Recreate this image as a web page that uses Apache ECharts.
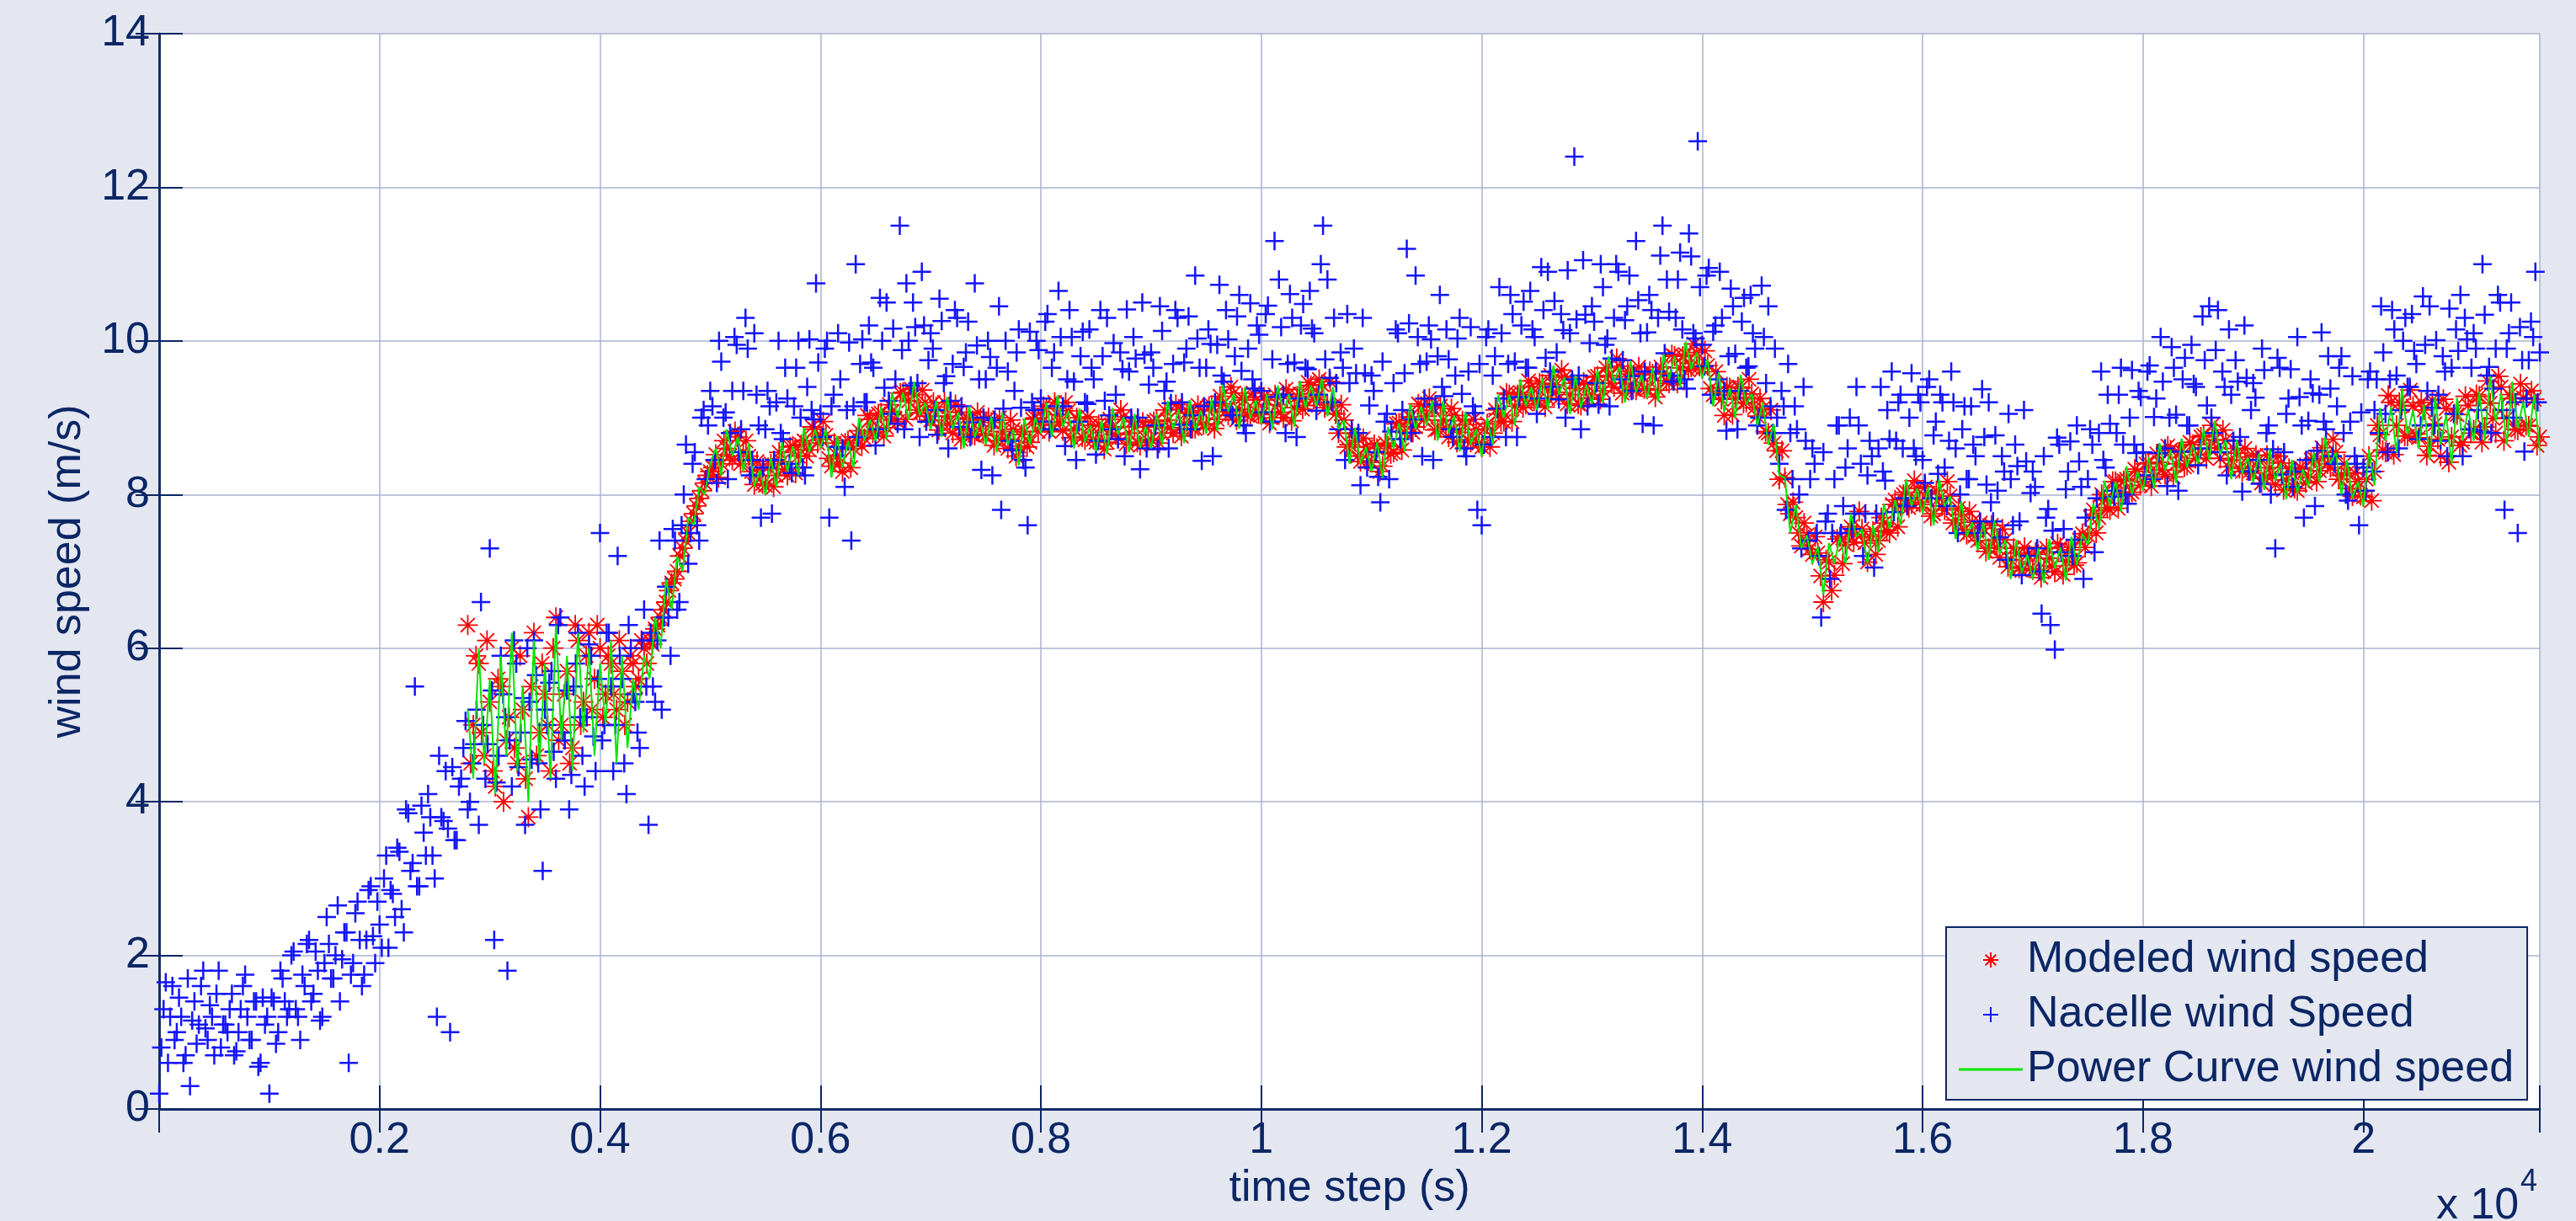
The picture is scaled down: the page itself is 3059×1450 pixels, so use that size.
<!DOCTYPE html>
<html>
<head>
<meta charset="utf-8">
<script src="https://cdn.jsdelivr.net/npm/echarts@6/dist/echarts.min.js"></script>
<style>
html,body{margin:0;padding:0;background:#e4e7f0;}
#c{width:3059px;height:1450px;}
</style>
</head>
<body>
<div id="c"></div>
<script>
// ---- data ----
// Nacelle wind speed, sample set A: one value every 40 s starting at t = 0 s
const NACELLE_A_T0 = 0, NACELLE_DT = 40;
const nacelleSpeedA = [
 0.2,1.3,0.6,1.6,1.0,1.2,0.7,0.3,1.4,1.1,1.8,0.9,1.2,1.5,0.8,1.1,1.3,0.7,1.0,1.6,1.2,0.9,1.4,0.6,1.1,
 0.2,1.4,1.0,1.7,1.2,2.0,1.3,0.9,1.6,2.2,1.5,1.8,1.2,2.5,1.7,2.0,1.4,2.3,0.6,1.9,2.7,1.6,2.2,2.9,1.9,
 2.4,3.0,2.1,2.8,3.4,2.6,3.9,3.1,5.5,2.9,3.6,4.1,3.3,1.2,3.8,4.4,1.0,3.5,4.2,4.7,3.9,4.5,5.2,6.6,4.3,
 7.3,2.2,4.6,5.4,1.8,4.2,5.8,4.9,3.7,5.3,6.1,4.5,3.1,5.0,5.7,4.3,6.4,4.8,3.9,5.5,6.2,4.6,5.1,5.9,4.4,
 7.5,5.0,6.2,4.4,7.2,5.6,4.1,6.0,5.3,4.7,6.5,3.7,5.5,6.1,5.2,6.8,5.9,7.4,6.6,8.0,7.1,8.4,7.6,9.0,8.2,
 9.35,8.45,10.0,9.0,8.2,9.35,9.95,8.85,10.3,8.25,10.1,8.9,8.35,9.35,7.75,9.2,8.8,9.65,8.4,9.15,10.0,8.35,9.4,9.1,10.75,
 9.05,9.9,7.7,9.3,10.1,8.6,9.1,7.4,11.0,9.7,9.2,10.2,9.65,8.85,10.0,10.5,9.05,9.5,11.5,8.85,10.0,10.5,9.45,10.9,8.95,
 10.1,9.1,10.55,9.45,8.6,9.7,10.3,9.15,9.85,8.75,10.75,9.5,9.0,10.0,8.25,9.65,7.8,10.0,8.7,9.35,10.15,8.45,7.6,9.2,10.0,
 9.25,10.25,8.85,9.85,10.65,9.15,9.5,10.05,8.45,9.8,9.2,10.15,9.5,8.7,9.8,10.3,8.85,9.3,9.85,8.5,9.6,10.05,9.0,10.5,8.6,
 9.85,8.9,10.45,9.35,8.6,9.7,10.3,9.2,9.9,8.85,10.85,9.65,9.15,10.15,8.5,9.95,9.55,10.4,9.1,9.8,10.6,8.9,9.9,9.5,10.2,
 9.35,10.35,8.95,11.3,10.8,9.3,9.7,10.3,8.75,10.2,9.65,10.65,10.1,9.3,11.5,10.8,9.2,9.45,9.85,8.45,9.45,9.9,8.8,10.3,8.35,
 9.55,8.55,7.9,8.95,8.2,9.45,10.1,9.1,11.2,8.8,10.85,9.7,9.25,10.2,8.45,9.8,9.4,10.15,8.85,9.55,10.3,8.6,9.6,9.15,7.8,
 7.6,10.05,8.75,9.8,10.7,9.25,9.7,10.35,8.75,10.2,9.65,10.65,10.05,9.25,10.4,10.9,9.4,9.85,10.35,9.0,10.1,12.4,9.55,11.05,9.15,
 10.45,9.45,11.0,9.95,9.15,10.3,10.9,9.75,10.45,9.35,11.3,10.1,9.6,10.6,8.9,10.3,11.5,10.8,9.55,10.3,11.15,9.5,11.4,10.1,12.6,
 9.95,10.85,9.3,10.2,10.9,9.35,9.8,10.45,8.85,10.25,9.65,10.6,9.9,9.0,10.05,10.45,8.8,9.0,9.35,7.8,8.8,9.15,8.0,9.4,7.4,
 8.6,7.5,6.4,7.65,6.9,8.2,8.9,7.85,8.6,7.55,9.4,8.4,7.75,8.7,7.05,8.6,8.3,9.1,9.6,8.7,9.3,7.95,9.0,8.6,9.3,
 8.45,9.4,7.95,8.95,9.3,8.35,8.7,9.2,7.5,8.85,8.2,9.15,8.5,7.65,8.75,9.2,7.65,8.05,8.5,7.15,8.2,8.65,7.65,9.1,7.2,
 8.3,7.3,6.45,7.7,6.3,5.98,8.65,7.55,8.3,7.2,8.9,8.1,7.7,8.85,7.25,8.8,8.45,9.3,8.05,8.8,9.65,8.0,9.0,8.65,9.35,
 8.55,9.6,8.2,9.25,10.05,8.6,9.0,9.65,8.05,9.5,8.9,9.95,9.4,8.6,9.75,10.45,8.8,10.4,9.6,8.25,9.3,9.75,8.75,10.2,8.3,
 9.45,8.45,9.9,8.8,8.0,7.3,9.65,8.55,9.25,8.1,10.05,8.9,8.45,9.5,7.85,9.3,8.95,9.8,8.5,9.15,9.8,8.0,8.95,8.5,7.6,
 8.35,9.5,8.3,9.5,10.45,9.05,9.5,10.15,8.6,10.0,9.4,10.35,9.7,8.9,9.95,10.45,8.9,9.3,9.8,8.5,9.65,10.15,10.6,10.3,8.85,
 10.1,9.1,11.0,9.55,8.8,9.9,10.5,7.8,10.1,9.0,7.5,9.75,9.25,10.25,10.9,9.85
];
// Nacelle wind speed, sample set B: one value every 40 s starting at t = 20 s
const NACELLE_B_T0 = 20;
const nacelleSpeedB = [
 0.8,1.65,1.2,0.9,1.45,0.6,1.7,1.15,0.85,1.6,1.05,1.35,0.7,1.8,1.1,1.0,1.5,0.75,1.3,1.75,0.9,1.4,0.55,1.45,1.2,
 1.45,0.85,1.8,1.4,1.3,2.05,1.2,1.75,2.15,1.4,2.05,1.15,1.9,2.15,1.7,2.65,1.95,2.3,1.75,2.55,2.2,1.75,2.85,2.25,2.7,
 2.1,3.3,2.85,2.5,3.35,2.3,3.85,3.2,2.9,3.95,3.3,3.8,3.0,4.6,3.75,3.65,4.45,3.5,4.3,5.05,4.0,4.75,3.7,5.0,4.75,
 5.45,4.25,5.9,5.1,4.8,6.1,4.45,5.35,6.0,4.55,5.65,3.9,5.2,5.55,4.65,6.3,4.9,5.45,4.35,5.8,5.1,4.2,6.05,4.85,5.6,
 4.8,6.2,5.5,5.0,5.9,4.5,6.3,5.4,4.9,6.1,5.5,6.2,5.3,7.4,6.4,6.4,7.55,6.5,7.6,8.65,7.5,8.55,7.4,9.1,8.9,
 9.15,8.15,9.73,9.07,8.8,10.05,8.55,9.35,9.9,8.45,9.3,7.7,8.85,9.15,8.45,10.0,8.72,9.25,8.28,9.65,9.0,8.25,10.02,8.98,9.72,
 8.75,10.0,9.15,8.62,9.5,8.1,9.98,9.15,8.75,10.02,9.2,9.72,8.64,10.56,9.39,9.22,10.16,8.92,9.88,10.75,9.42,10.18,8.75,10.2,9.75,
 9.9,8.78,10.26,9.54,9.22,10.4,8.88,9.66,10.25,8.94,9.94,8.32,9.5,9.79,8.97,10.45,9.12,9.6,8.58,9.85,9.13,8.35,10.12,9.1,9.88,
 8.95,10.35,9.65,9.15,10.05,8.63,10.4,9.47,8.95,10.12,9.18,9.65,8.52,10.4,9.22,9.03,9.97,8.72,9.63,10.41,9.0,9.77,8.33,9.82,9.43,
 9.65,8.59,10.13,9.47,9.19,10.4,8.91,9.72,10.32,9.03,10.03,8.44,9.65,9.96,9.2,10.73,9.47,10.02,9.03,10.32,9.61,8.8,10.49,9.38,10.08,
 9.07,10.46,9.76,9.27,10.18,8.8,10.61,9.72,9.25,10.48,9.63,10.16,9.09,11.0,9.76,9.52,10.3,8.85,9.65,10.35,8.85,9.58,8.12,9.58,9.16,
 9.35,8.23,9.73,9.05,8.82,10.15,8.72,9.58,10.23,8.98,10.05,8.5,9.73,10.02,9.17,10.6,9.28,9.76,8.75,10.03,9.31,8.5,10.18,9.06,9.7,
 8.65,10.15,9.55,9.12,10.1,8.75,10.6,9.73,9.27,10.51,9.65,10.15,9.05,10.96,9.78,9.6,10.52,9.24,10.14,10.92,9.5,10.28,8.85,10.34,9.97,
 10.25,9.17,10.7,10.03,9.77,11.0,9.5,10.27,10.85,9.54,10.53,8.92,10.11,10.4,9.6,11.11,9.84,10.38,9.47,10.8,10.15,9.38,11.1,10.03,10.7,
 9.67,10.95,10.12,9.5,10.3,8.83,10.68,9.83,9.35,10.56,9.67,10.1,8.9,10.72,9.45,9.15,9.9,8.4,9.15,9.7,8.2,8.85,7.3,8.7,8.2,
 8.4,7.2,8.55,7.75,7.5,8.9,7.5,8.35,9.0,7.75,8.9,7.2,8.25,8.5,7.75,9.4,8.18,8.72,7.77,9.2,8.6,7.85,9.58,8.5,9.2,
 8.15,9.5,8.77,8.27,9.2,7.85,9.6,8.6,8.0,9.15,8.2,8.65,7.5,9.37,8.13,7.9,8.77,7.44,8.3,9.05,7.6,8.37,6.95,8.43,8.02,
 8.1,7.0,8.5,7.81,7.53,8.74,7.25,8.07,8.69,7.41,8.43,6.9,8.2,8.65,7.95,9.6,8.35,8.92,7.97,9.3,8.65,7.88,9.62,8.54,9.27,
 8.25,9.68,9.01,8.54,9.47,8.11,9.92,9.04,8.56,9.78,8.9,9.44,8.38,10.32,9.16,9.0,9.88,8.55,9.4,10.15,8.7,9.47,8.04,9.52,9.1,
 9.26,8.14,9.62,8.9,8.59,9.78,8.26,9.05,9.63,8.3,9.27,7.7,8.96,9.32,8.57,10.11,8.85,9.38,8.4,9.65,8.8,7.92,9.54,8.4,9.07,
 8.05,9.6,9.1,8.8,9.85,8.55,10.4,9.55,9.1,10.3,9.4,9.87,8.72,10.58,9.35,9.13,10.01,8.7,9.6,10.42,9.05,9.87,8.5,10.02,9.65,
 9.9,8.82,10.34,9.66,9.38,10.6,9.1,9.9,10.5,9.2,10.18,8.56,9.75,10.05,9.2
];

// Modeled wind speed, set A: one value every 50 s from t = 2800 s
const MODEL_A_T0 = 2800, MODEL_DT = 50;
const modeledSpeedA = [
 6.3,5.0,5.8,4.6,5.3,4.2,5.5,4.8,6.0,4.5,5.2,3.8,6.2,4.9,5.4,4.4,6.4,5.0,5.7,4.7,6.1,5.3,6.2,5.6,6.0,5.4,5.8,5.2,5.7,5.3,5.8,5.6,6.0,
 6.1,6.25,6.4,6.6,6.85,7.0,7.3,7.5,7.75,7.95,8.15,8.3,
 8.52,8.4,8.6,8.45,8.75,8.55,8.5,8.13,8.32,8.12,8.4,8.25,8.43,8.25,8.63,8.5,8.7,8.58,8.85,8.72,
 8.77,8.37,8.51,8.3,8.7,8.6,8.83,8.73,8.98,8.82,9.06,8.87,9.08,8.95,9.33,9.22,9.3,9.06,9.2,8.97,
 9.14,8.9,9.02,8.8,9.07,8.85,8.98,8.77,8.97,8.77,8.94,8.7,8.82,8.6,8.85,8.63,8.82,8.68,9.0,8.92,
 9.12,8.9,9.04,8.83,9.09,8.85,8.95,8.71,8.9,8.68,8.89,8.68,8.88,8.73,9.01,8.8,8.88,8.64,8.88,8.72,
 8.97,8.8,8.97,8.8,9.11,8.92,9.06,8.86,9.09,8.92,9.16,8.98,9.18,9.03,9.32,9.11,9.23,9.02,9.23,9.04,
 9.23,9.0,9.17,9.0,9.31,9.13,9.31,9.16,9.42,9.27,9.43,9.17,9.15,8.8,8.97,8.65,8.7,8.43,8.62,8.42,
 8.6,8.37,8.63,8.55,8.93,8.81,9.01,8.88,9.15,9.02,9.14,8.85,8.97,8.75,9.03,8.81,8.91,8.68,8.85,8.62,
 8.92,8.8,9.05,8.95,9.3,9.15,9.33,9.18,9.4,9.22,9.44,9.25,9.43,9.25,9.53,9.3,9.38,9.16,9.43,9.3,
 9.54,9.35,9.55,9.4,9.67,9.45,9.57,9.36,9.56,9.37,9.57,9.36,9.58,9.45,9.8,9.65,9.82,9.66,9.85,9.64,
 9.68,9.3,9.34,9.03,9.39,9.25,9.39,9.2,9.31,9.02,9.12,8.8,8.67,8.2,8.22,7.75,7.7,7.33,7.47,7.22,
 7.24,6.6,7.12,6.95,7.45,7.35,7.58,7.48,7.55,7.12,7.52,7.4,7.63,7.5,7.93,7.85,8.03,7.88,8.08,7.87,
 8.02,7.75,7.95,7.8,7.98,7.67,7.74,7.48,7.64,7.4,7.56,7.3,7.41,7.18,7.41,7.15,7.24,7.01,7.22,7.02,
 7.22,7.0,7.17,6.99,7.31,7.13,7.28,7.11,7.49,7.47,7.8,7.7,7.93,7.8,8.17,8.03,8.2,8.03,8.3,8.17,
 8.41,8.23,8.42,8.26,8.58,8.4,8.56,8.38,8.65,8.52,8.77,8.6,8.71,8.47,8.71,8.45,8.54,8.3,8.49,8.28,
 8.45,8.21,8.35,8.13,8.41,8.19,8.28,8.05,8.33,8.22,8.47,8.31,8.5,8.35,8.55,8.25,8.28,7.98,8.17,7.97,
 8.5,8.3,8.78,8.55,9.2,8.9,9.16,8.76,9.15,8.74,9.1,8.63,8.92,8.5,9.12,8.75,9.04,8.68,9.16,8.84,
 9.28,8.88,9.19,8.8,9.4,9.0,9.25,8.84,9.26,8.89,9.24,8.75
];
// Modeled wind speed, set B: one value every 50 s from t = 2825 s
const MODEL_B_T0 = 2825;
const modeledSpeedB = [
 4.5,5.9,4.9,6.1,4.4,5.6,4.0,5.1,4.7,5.9,4.3,5.5,4.6,5.8,5.0,6.0,4.8,5.4,4.5,6.3,5.0,5.9,5.2,6.3,5.1,5.9,5.4,6.1,5.0,5.9,5.5,6.1,5.8,
 6.05,6.3,6.5,6.75,6.9,7.2,7.4,7.65,7.85,8.05,8.25,8.35,
 8.22,8.7,8.5,8.82,8.4,8.7,8.3,8.43,8.14,8.35,8.1,8.55,8.33,8.62,8.28,8.65,8.5,8.88,8.67,8.95,
 8.47,8.67,8.41,8.67,8.35,8.75,8.63,9.03,8.8,9.05,8.76,9.17,8.98,9.32,8.98,9.37,9.1,9.36,9.02,9.2,
 8.84,9.2,8.92,9.17,8.72,9.0,8.78,9.07,8.79,9.0,8.64,9.0,8.72,8.97,8.5,8.78,8.62,8.98,8.82,9.15,
 8.82,9.2,8.94,9.2,8.74,9.0,8.75,9.01,8.72,8.91,8.59,8.98,8.78,9.1,8.66,8.95,8.68,8.94,8.7,8.95,
 8.67,9.1,8.87,9.17,8.76,9.07,8.86,9.16,8.91,9.15,8.86,9.28,9.08,9.4,8.97,9.26,9.03,9.32,9.05,9.27,
 8.93,9.3,9.07,9.37,8.96,9.28,9.11,9.46,9.24,9.5,9.13,9.47,9.05,9.17,8.62,8.8,8.5,8.73,8.44,8.65,
 8.3,8.67,8.53,8.92,8.58,8.96,8.81,9.18,8.97,9.25,8.84,9.15,8.87,9.12,8.68,8.96,8.71,8.98,8.67,8.85,
 8.62,9.1,8.95,9.32,8.95,9.3,9.13,9.48,9.22,9.45,9.14,9.55,9.33,9.62,9.18,9.45,9.18,9.46,9.25,9.53,
 9.24,9.65,9.45,9.77,9.32,9.6,9.37,9.66,9.38,9.6,9.27,9.66,9.48,9.82,9.45,9.8,9.62,9.96,9.67,9.87,
 9.38,9.6,9.24,9.4,9.04,9.4,9.19,9.5,9.13,9.25,8.82,9.1,8.57,8.57,7.87,7.9,7.5,7.63,7.29,7.45,
 6.94,7.15,6.75,7.42,7.1,7.5,7.38,7.78,7.37,7.45,7.22,7.7,7.53,7.87,7.58,8.0,7.83,8.18,7.9,8.1,
 7.72,8.05,7.85,8.17,7.63,7.82,7.54,7.78,7.46,7.63,7.26,7.6,7.31,7.55,7.06,7.3,7.04,7.31,7.04,7.25,
 6.92,7.3,7.07,7.36,6.96,7.28,7.08,7.41,7.31,7.7,7.5,8.0,7.83,8.17,7.82,8.18,8.0,8.33,8.12,8.4,
 8.11,8.53,8.32,8.63,8.23,8.55,8.36,8.68,8.47,8.75,8.47,8.9,8.61,8.84,8.36,8.6,8.34,8.6,8.31,8.51,
 8.15,8.51,8.25,8.5,8.06,8.34,8.08,8.35,8.15,8.45,8.17,8.61,8.4,8.72,8.2,8.4,8.08,8.28,7.99,8.2,
 7.92,8.9,8.58,9.29,8.52,9.2,8.76,9.36,8.79,9.2,8.51,9.23,8.72,9.24,8.42,9.05,8.64,9.28,8.8,9.3,
 8.68,9.48,8.99,9.54,8.7,9.3,8.85,9.44,8.9,9.35,8.64
];
// Power-curve wind speed: one value every 50 s from t = 2800 s
const powerCurveSpeed = [
 5.2,4.3,6.0,4.5,5.6,4.1,5.9,4.6,6.2,4.4,5.5,4.0,6.1,4.5,5.8,4.3,6.3,4.8,5.9,4.4,6.2,4.9,6.0,4.6,5.8,5.0,6.1,4.5,5.9,4.7,5.6,5.2,5.9,
 5.6,6.4,6.0,6.9,6.5,7.2,7.0,7.7,7.6,8.1,8.0,8.4,
 8.6,8.25,8.85,8.5,8.75,8.3,8.67,8.1,8.32,8.0,8.48,8.1,8.68,8.3,8.63,8.25,8.87,8.55,8.85,8.6,
 8.85,8.22,8.76,8.35,8.7,8.35,9.0,8.7,8.98,8.7,9.14,8.72,9.33,9.0,9.33,8.97,9.47,9.03,9.2,8.85,
 9.22,8.75,9.27,8.85,9.07,8.6,9.15,8.74,8.97,8.65,9.02,8.55,9.07,8.65,8.85,8.38,8.99,8.65,9.0,8.8,
 9.2,8.75,9.29,8.88,9.09,8.6,9.12,8.68,8.9,8.56,8.97,8.53,9.13,8.78,9.01,8.55,9.05,8.61,8.88,8.6,
 9.05,8.65,9.22,8.85,9.11,8.67,9.23,8.83,9.09,8.8,9.24,8.83,9.43,9.08,9.32,8.86,9.4,8.99,9.23,8.92,
 9.31,8.85,9.42,9.05,9.31,8.88,9.48,9.13,9.42,9.15,9.51,9.02,9.4,8.85,8.97,8.4,8.87,8.4,8.62,8.3,
 8.68,8.22,8.88,8.6,8.93,8.56,9.18,8.85,9.15,8.9,9.22,8.7,9.22,8.8,9.03,8.56,9.08,8.65,8.85,8.5,
 9.0,8.65,9.3,9.0,9.3,8.9,9.5,9.15,9.4,9.1,9.52,9.1,9.68,9.3,9.53,9.05,9.55,9.13,9.43,9.18,
 9.62,9.2,9.8,9.45,9.67,9.2,9.74,9.33,9.56,9.25,9.65,9.21,9.83,9.5,9.8,9.4,9.99,9.63,9.85,9.52,
 9.76,9.15,9.59,9.08,9.39,9.0,9.56,9.17,9.31,8.9,9.2,8.65,8.92,8.25,8.22,7.5,7.87,7.3,7.47,7.1,
 7.32,6.7,7.37,7.1,7.45,7.1,7.75,7.45,7.55,7.1,7.6,7.25,7.88,7.55,7.93,7.6,8.2,7.85,8.08,7.75,
 8.1,7.6,8.2,7.85,7.98,7.42,7.91,7.45,7.64,7.28,7.64,7.15,7.66,7.23,7.41,6.9,7.41,6.98,7.22,6.9,
 7.3,6.85,7.42,7.04,7.31,6.88,7.45,7.08,7.49,7.35,7.88,7.55,8.18,7.85,8.17,7.78,8.37,8.0,8.3,8.05,
 8.49,8.08,8.67,8.31,8.58,8.15,8.73,8.35,8.65,8.4,8.85,8.45,8.96,8.52,8.71,8.2,8.71,8.27,8.49,8.16,
 8.53,8.06,8.6,8.18,8.41,7.94,8.45,8.02,8.33,8.1,8.55,8.16,8.75,8.4,8.55,8.0,8.45,7.95,8.17,7.85,
 8.58,8.12,9.13,8.7,9.14,8.55,9.38,8.78,9.1,8.6,9.17,8.45,9.27,8.65,9.04,8.4,9.26,8.7,9.11,8.7,
 9.34,8.7,9.54,8.95,9.32,8.65,9.47,8.86,9.21,8.75,9.3,8.57
];
const seriesNames = ['Modeled wind speed', 'Nacelle wind Speed', 'Power Curve wind speed'];
const X_MIN = 0, X_MAX = 21600, X_STEP = 2000;
const Y_MIN = 0, Y_MAX = 14, Y_STEP = 2;

// ---- build ----
const nacellePts = nacelleSpeedA.map((v, i) => [NACELLE_A_T0 + i * NACELLE_DT, v])
  .concat(nacelleSpeedB.map((v, i) => [NACELLE_B_T0 + i * NACELLE_DT, v]));
const modeledPts = modeledSpeedA.map((v, i) => [MODEL_A_T0 + i * MODEL_DT, v])
  .concat(modeledSpeedB.map((v, i) => [MODEL_B_T0 + i * MODEL_DT, v]));
const powerPts = powerCurveSpeed.map((v, i) => [MODEL_A_T0 + i * MODEL_DT, v]);

const NAVY = '#0b2665';
const FONT = 'Liberation Sans';
const PLUS = 'path://M0,-10L0,10M-10,0L10,0';
const STAR = 'path://M0,-10L0,10M-10,0L10,0M-7,-7L7,7M-7,7L7,-7';
const LINE_ICON = 'path://M0,0h76v3h-76z';

const chart = echarts.init(document.getElementById('c'), null, {renderer: 'canvas'});
const axisLine = {show: true, lineStyle: {color: NAVY, width: 2.5}};
const tick = {show: true, inside: true, length: 28, lineStyle: {color: NAVY, width: 2}};
chart.setOption({
  animation: false,
  backgroundColor: '#e4e7f0',
  textStyle: {fontFamily: FONT},
  grid: {left: 189, right: 43, top: 40, bottom: 133, show: true, backgroundColor: '#ffffff', borderWidth: 0},
  xAxis: [{
    type: 'value', min: X_MIN, max: X_MAX, interval: X_STEP,
    axisLine: axisLine, axisTick: tick,
    axisLabel: {color: NAVY, fontSize: 52, fontFamily: FONT, margin: 12,
      formatter: v => (v === 0 || v > 20000) ? '' : String(v / 10000)},
    splitLine: {show: true, lineStyle: {color: '#aab3cf', width: 1.5}},
    name: 'time step (s)', nameLocation: 'middle', nameGap: 64,
    nameTextStyle: {color: NAVY, fontSize: 52, fontFamily: FONT}
  }, {
    type: 'value', position: 'top', min: X_MIN, max: X_MAX, interval: X_STEP,
    axisLine: axisLine, axisTick: tick, axisLabel: {show: false}, splitLine: {show: false}
  }],
  yAxis: [{
    type: 'value', min: Y_MIN, max: Y_MAX, interval: Y_STEP,
    axisLine: axisLine, axisTick: tick,
    axisLabel: {color: NAVY, fontSize: 52, fontFamily: FONT, margin: 11},
    splitLine: {show: true, lineStyle: {color: '#aab3cf', width: 1.5}},
    name: 'wind speed (m/s)', nameLocation: 'middle', nameGap: 82,
    nameTextStyle: {color: NAVY, fontSize: 52, fontFamily: FONT}
  }, {
    type: 'value', position: 'right', min: Y_MIN, max: Y_MAX, interval: Y_STEP,
    axisLine: axisLine, axisTick: tick, axisLabel: {show: false}, splitLine: {show: false}
  }],
  legend: {
    orient: 'vertical', left: 2311, top: 1101,
    backgroundColor: '#e4e7f0', borderColor: NAVY, borderWidth: 2,
    padding: [13, 16, 10, 15], itemWidth: 76, itemHeight: 18, itemGap: 13,
    textStyle: {color: NAVY, fontSize: 52, fontFamily: FONT, lineHeight: 52},
    data: [
      {name: seriesNames[0]},
      {name: seriesNames[1]},
      {name: seriesNames[2], icon: LINE_ICON}
    ]
  },
  graphic: [
    {type: 'text', left: 2893, top: 1407, style: {text: 'x 10', fill: NAVY, fontSize: 52, fontFamily: FONT}},
    {type: 'text', left: 2993, top: 1386, style: {text: '4', fill: NAVY, fontSize: 36, fontFamily: FONT}}
  ],
  series: [{
    name: seriesNames[0], type: 'scatter', data: modeledPts,
    symbol: STAR, symbolSize: 24,
    itemStyle: {color: 'rgba(0,0,0,0)', borderColor: '#ff0000', borderWidth: 1.8, opacity: 1}
  }, {
    name: seriesNames[1], type: 'scatter', data: nacellePts,
    symbol: PLUS, symbolSize: 22,
    itemStyle: {color: 'rgba(0,0,0,0)', borderColor: '#1414ff', borderWidth: 2.5, opacity: 1}
  }, {
    name: seriesNames[2], type: 'line', data: powerPts,
    symbol: 'none', showSymbol: false,
    lineStyle: {color: '#00e600', width: 2},
    itemStyle: {color: '#00e600'}
  }]
});
</script>
</body>
</html>
